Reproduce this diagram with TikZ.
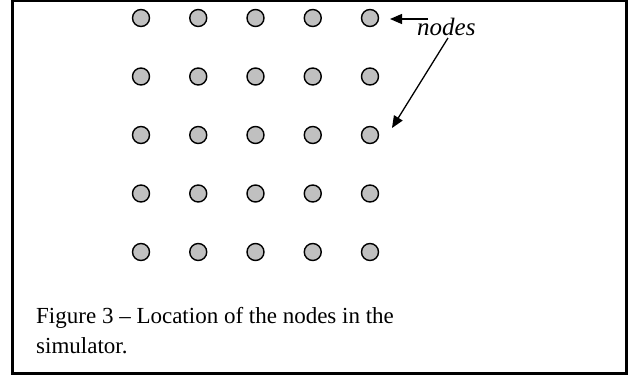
\documentclass[tikz,border=0pt]{standalone}
\usepackage{fontspec}
\setmainfont{Liberation Serif}
\usetikzlibrary{arrows.meta}
\definecolor{dotgray}{RGB}{192,192,192}
\tikzset{
  dot/.style={circle, draw=black, line width=1.4pt, fill=dotgray, minimum size=17pt, inner sep=0pt},
  frame/.style={line width=3pt},
  arr/.style={line width=1.3pt, -{Triangle[length=12pt,width=10pt]}},
  captxt/.style={anchor=base west, inner sep=0pt, font=\fontsize{23}{30}\selectfont}
}
\begin{document}
\begin{tikzpicture}[x=1pt,y=-1pt]
\useasboundingbox (0,0) rectangle (638,376);
% frame
\draw[frame] (12.5,0) -- (12.5,373.5) -- (626.5,373.5) -- (626.5,0);
\draw[line width=1.5pt] (11,0.75) -- (628,0.75);
% grid of nodes
\foreach \r in {0,...,4}{
  \foreach \c in {0,...,4}{
    \node[dot] (n\r\c) at ({141+57.25*\c},{18+58.5*\r}) {};
  }
}
% label
\node[anchor=base west, inner sep=0pt, font=\fontsize{25}{30}\selectfont\itshape] (lbl) at (417,35) {nodes};
\coordinate (s1) at (428,19);
\coordinate (t1) at (390,19);
\coordinate (s2) at (448,38);
\coordinate (t2) at (392,128);
\draw[arr] (s1) -- (t1);
\draw[arr] (s2) -- (t2);
% caption
\node[captxt] (cap1) at (36,323) {Figure 3 -- Location of the nodes in the};
\node[captxt] (cap2) at (36,353) {simulator.};
\end{tikzpicture}
\end{document}
